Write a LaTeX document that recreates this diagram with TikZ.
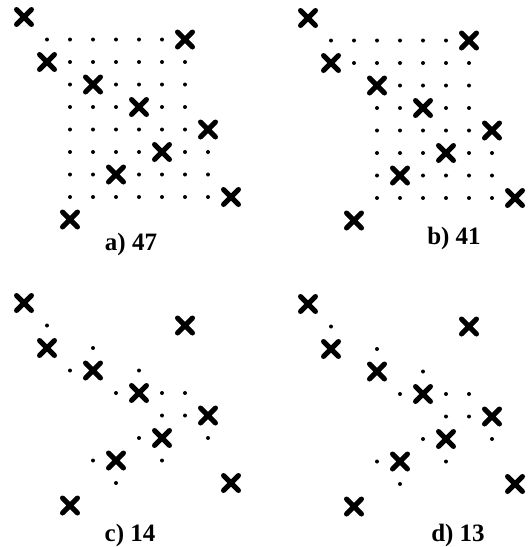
\documentclass[tikz,border=0pt]{standalone}
\usepackage{fontspec}
\setmainfont{Liberation Serif}

\begin{document}
\begin{tikzpicture}[x=1pt, y=-1pt,
    xmark/.pic={\draw[line width=5pt, line cap=round] (-7.5,-7.5) -- (7.5,7.5) (-7.5,7.5) -- (7.5,-7.5);},
    caption/.style={font=\fontsize{25}{28}\selectfont\bfseries}]
  \useasboundingbox (0,0) rectangle (531,547);
  % a) 47
  \begin{scope}[shift={(24,17)}]
    \foreach \c/\r in {0/0,7/1,1/2,3/3,5/4,8/5,6/6,4/7,9/8,2/9}
      \pic at (\c*23,\r*22.5) {xmark};
    \foreach \r/\cols in {1/{1,...,6}, 2/{2,...,7}, 3/{2,4,5,6,7}, 4/{2,3,4,6,7},
                          5/{2,...,7}, 6/{2,3,4,5,7,8}, 7/{2,3,5,6,7,8}, 8/{2,...,8}}
      \foreach \c in \cols
        \fill (\c*23,\r*22.5) circle (2);
  \end{scope}
  \node[caption] (lab-a) at (131,244) {a) 47};
  % b) 41
  \begin{scope}[shift={(308,18)}]
    \foreach \c/\r in {0/0,7/1,1/2,3/3,5/4,8/5,6/6,4/7,9/8,2/9}
      \pic at (\c*23,\r*22.5) {xmark};
    \foreach \r/\cols in {1/{1,...,6}, 2/{2,...,7}, 3/{4,...,7}, 4/{3,4,6,7},
                          5/{3,...,7}, 6/{3,4,5,7,8}, 7/{3,5,6,7,8}, 8/{3,...,8}}
      \foreach \c in \cols
        \fill (\c*23,\r*22.5) circle (2);
  \end{scope}
  \node[caption] (lab-b) at (454,238) {b) 41};
  % c) 14
  \begin{scope}[shift={(24,303)}]
    \foreach \c/\r in {0/0,7/1,1/2,3/3,5/4,8/5,6/6,4/7,9/8,2/9}
      \pic at (\c*23,\r*22.5) {xmark};
    \foreach \r/\cols in {1/{1}, 2/{3}, 3/{2,5}, 4/{4,6,7}, 5/{6,7}, 6/{5,8}, 7/{3,6}, 8/{4}}
      \foreach \c in \cols
        \fill (\c*23,\r*22.5) circle (2);
  \end{scope}
  \node[caption] (lab-c) at (130,535) {c) 14};
  % d) 13
  \begin{scope}[shift={(308,304)}]
    \foreach \c/\r in {0/0,7/1,1/2,3/3,5/4,8/5,6/6,4/7,9/8,2/9}
      \pic at (\c*23,\r*22.5) {xmark};
    \foreach \r/\cols in {1/{1}, 2/{3}, 3/{5}, 4/{4,6,7}, 5/{6,7}, 6/{5,8}, 7/{3,6}, 8/{4}}
      \foreach \c in \cols
        \fill (\c*23,\r*22.5) circle (2);
  \end{scope}
  \node[caption] (lab-d) at (458,535) {d) 13};
\end{tikzpicture}
\end{document}
